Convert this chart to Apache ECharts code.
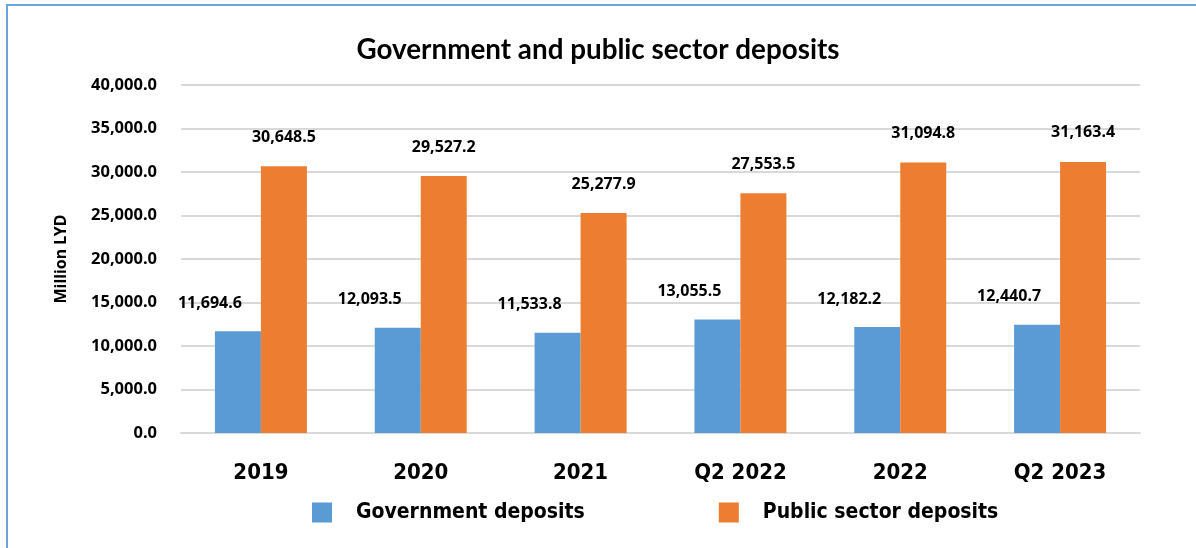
<!DOCTYPE html>
<html>
<head>
<meta charset="utf-8">
<script src="https://cdn.jsdelivr.net/npm/echarts@6/dist/echarts.min.js"></script>
<style>
html,body{margin:0;padding:0;background:#fff;}
#chart{width:1196px;height:548px;position:relative;}
#frame{position:absolute;left:6px;top:4px;right:-2px;bottom:-2px;border-left:2px solid #6aa5dc;border-top:2px solid #6aa5dc;pointer-events:none;}
</style>
</head>
<body>
<div id="chart"></div>
<div id="frame"></div>
<script>
var categories = ['2019', '2020', '2021', 'Q2 2022', '2022', 'Q2 2023'];
var governmentDeposits = [11694.6, 12093.5, 11533.8, 13055.5, 12182.2, 12440.7];
var publicSectorDeposits = [30648.5, 29527.2, 25277.9, 27553.5, 31094.8, 31163.4];
var seriesNames = ['Government deposits', 'Public sector deposits'];

function fmt(v) {
  return Number(v).toLocaleString('en-US', {minimumFractionDigits: 1, maximumFractionDigits: 1});
}

var numFont = '"Noto Sans", "DejaVu Sans", sans-serif';
var condFont = '"DejaVu Sans Condensed", "Noto Sans", sans-serif';

var chart = echarts.init(document.getElementById('chart'), null, {renderer: 'canvas'});
chart.setOption({
  animation: false,
  backgroundColor: '#ffffff',
  title: {
    text: 'Government and public sector deposits',
    left: 'center',
    top: 31,
    textStyle: {fontFamily: 'Lato, "Noto Sans", sans-serif', fontWeight: 'bold', fontSize: 27.8, color: '#000'}
  },
  legend: {
    data: seriesNames,
    left: 307,
    top: 497,
    itemWidth: 20,
    itemHeight: 20,
    itemGap: 134,
    icon: 'rect',
    textStyle: {fontFamily: condFont, fontWeight: 'bold', fontSize: 21, color: '#000', padding: [0, 0, 0, 19]}
  },
  grid: {left: 181, right: 56, top: 85, bottom: 115, containLabel: false},
  xAxis: {
    type: 'category',
    data: categories,
    axisLine: {lineStyle: {color: '#d9d9d9', width: 2}},
    axisTick: {show: false},
    axisLabel: {fontFamily: condFont, fontWeight: 'bold', fontSize: 22, color: '#000', margin: 29}
  },
  yAxis: {
    type: 'value',
    min: 0,
    max: 40000,
    interval: 5000,
    name: 'Million LYD',
    nameLocation: 'middle',
    nameGap: 112,
    nameRotate: 90,
    nameTextStyle: {fontFamily: numFont, fontWeight: 'bold', fontSize: 16, color: '#000'},
    axisLine: {show: false},
    axisTick: {show: false},
    splitLine: {lineStyle: {color: '#d9d9d9', width: 2}},
    axisLabel: {fontFamily: numFont, fontWeight: 'bold', fontSize: 16.5, color: '#000', margin: 24, formatter: fmt}
  },
  series: [
    {
      name: seriesNames[0],
      type: 'bar',
      data: governmentDeposits,
      barWidth: 46,
      barGap: '0%',
      itemStyle: {color: '#5b9bd5'},
      label: {show: true, position: 'top', distance: 20, offset: [-28, 0], formatter: function(p){return fmt(p.value);},
        fontFamily: numFont, fontWeight: 'bold', fontSize: 16, color: '#000'}
    },
    {
      name: seriesNames[1],
      type: 'bar',
      data: publicSectorDeposits,
      barWidth: 46,
      barGap: '0%',
      itemStyle: {color: '#ed7d31'},
      label: {show: true, position: 'top', distance: 21, formatter: function(p){return fmt(p.value);},
        fontFamily: numFont, fontWeight: 'bold', fontSize: 16, color: '#000'}
    }
  ]
});
</script>
</body>
</html>
